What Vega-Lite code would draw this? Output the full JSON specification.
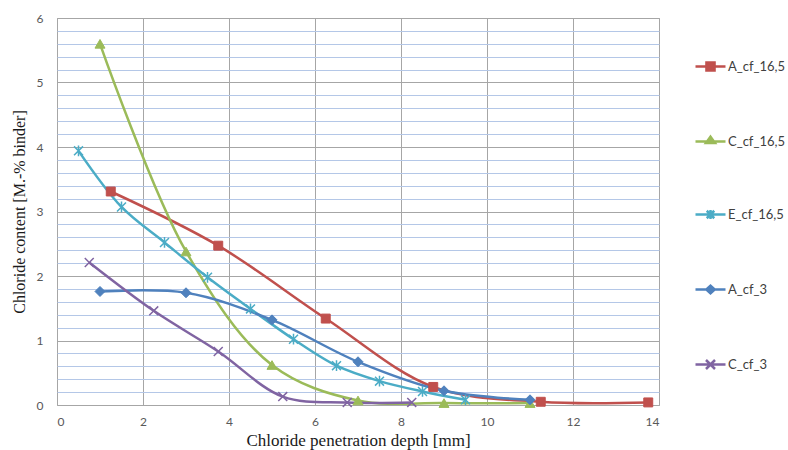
{
  "$schema": "https://vega.github.io/schema/vega-lite/v6.json",
  "width": 602,
  "height": 387,
  "autosize": {"type": "none"},
  "padding": {"left": 57, "top": 18, "right": 129, "bottom": 45},
  "background": "white",
  "config": {
    "view": {"stroke": "#a6a6a6", "strokeWidth": 1},
    "axis": {"labelFont": "Lato", "labelFontSize": 12, "labelColor": "#595959", "titleFont": "Liberation Serif", "titleFontSize": 16, "titleFontWeight": "normal", "titleColor": "#1a1a1a", "ticks": false, "tickSize": 0, "domain": false}
  },
  "data": {"values": [
    {"series": "A_cf_16,5", "x": 1.25, "y": 3.31},
    {"series": "A_cf_16,5", "x": 3.75, "y": 2.47},
    {"series": "A_cf_16,5", "x": 6.25, "y": 1.34},
    {"series": "A_cf_16,5", "x": 8.75, "y": 0.28},
    {"series": "A_cf_16,5", "x": 11.25, "y": 0.05},
    {"series": "A_cf_16,5", "x": 13.75, "y": 0.04},
    {"series": "C_cf_16,5", "x": 1, "y": 5.6},
    {"series": "C_cf_16,5", "x": 3, "y": 2.38},
    {"series": "C_cf_16,5", "x": 5, "y": 0.62},
    {"series": "C_cf_16,5", "x": 7, "y": 0.07},
    {"series": "C_cf_16,5", "x": 9, "y": 0.03},
    {"series": "C_cf_16,5", "x": 11, "y": 0.03},
    {"series": "E_cf_16,5", "x": 0.5, "y": 3.94},
    {"series": "E_cf_16,5", "x": 1.5, "y": 3.07},
    {"series": "E_cf_16,5", "x": 2.5, "y": 2.52},
    {"series": "E_cf_16,5", "x": 3.5, "y": 1.98},
    {"series": "E_cf_16,5", "x": 4.5, "y": 1.49},
    {"series": "E_cf_16,5", "x": 5.5, "y": 1.02},
    {"series": "E_cf_16,5", "x": 6.5, "y": 0.61},
    {"series": "E_cf_16,5", "x": 7.5, "y": 0.37},
    {"series": "E_cf_16,5", "x": 8.5, "y": 0.21},
    {"series": "E_cf_16,5", "x": 9.5, "y": 0.08},
    {"series": "A_cf_3", "x": 1, "y": 1.76},
    {"series": "A_cf_3", "x": 3, "y": 1.74},
    {"series": "A_cf_3", "x": 5, "y": 1.32},
    {"series": "A_cf_3", "x": 7, "y": 0.67},
    {"series": "A_cf_3", "x": 9, "y": 0.22},
    {"series": "A_cf_3", "x": 11, "y": 0.08},
    {"series": "C_cf_3", "x": 0.75, "y": 2.21},
    {"series": "C_cf_3", "x": 2.25, "y": 1.46},
    {"series": "C_cf_3", "x": 3.75, "y": 0.83},
    {"series": "C_cf_3", "x": 5.25, "y": 0.13},
    {"series": "C_cf_3", "x": 6.75, "y": 0.04},
    {"series": "C_cf_3", "x": 8.25, "y": 0.04}
  ]},
  "resolve": {"axis": {"y": "independent"}},
  "layer": [
    {
      "mark": {"type": "line", "interpolate": "catmull-rom", "strokeWidth": 2.5},
      "encoding": {
        "x": {"field": "x", "type": "quantitative", "scale": {"domain": [0, 14], "nice": false},
              "axis": {"values": [0, 2, 4, 6, 8, 10, 12, 14], "grid": true, "gridColor": "#a6a6a6", "labelPadding": 11, "titlePadding": 5, "titleFontSize": 17, "title": "Chloride penetration depth [mm]"}},
        "y": {"field": "y", "type": "quantitative", "scale": {"domain": [0, 6], "nice": false},
              "axis": {"values": [0, 1, 2, 3, 4, 5, 6], "grid": true, "gridColor": "#a6a6a6", "labelPadding": 14, "titlePadding": 9, "title": "Chloride content [M.-% binder]"}},
        "color": {"field": "series", "type": "nominal",
          "scale": {"domain": ["A_cf_16,5", "C_cf_16,5", "E_cf_16,5", "A_cf_3", "C_cf_3"], "range": ["#C0504D", "#9BBB59", "#4BACC6", "#4F81BD", "#8064A2"]},
          "legend": {
            "title": null, "orient": "right", "offset": 3, "padding": 32, "rowPadding": 49,
            "symbolSize": 900, "symbolStrokeWidth": 2.5, "labelOffset": 1,
            "labelFont": "Lato", "labelFontSize": 13, "labelColor": "#404040",
            "encode": {"symbols": {"update": {
              "shape": {"signal": "datum.value === 'A_cf_16,5' ? 'M-1,0H1M-0.27,-0.27H0.27V0.27H-0.27Z' : datum.value === 'C_cf_16,5' ? 'M-1,0H1M0,-0.32L0.3,0.1H-0.3Z' : datum.value === 'E_cf_16,5' ? 'M-1,0H1M-0.25,-0.25L0.25,0.25M-0.25,0.25L0.25,-0.25M0,-0.3V0.3' : datum.value === 'A_cf_3' ? 'M-1,0H1M0,-0.25L0.28,0L0,0.25L-0.28,0Z' : 'M-1,0H1M-0.3,-0.3L0.3,0.3M-0.3,0.3L0.3,-0.3'"},
              "fill": {"signal": "scale('color', datum.value)"},
              "stroke": {"signal": "scale('color', datum.value)"},
              "strokeWidth": {"value": 2.5},
              "size": {"value": 900},
              "opacity": {"value": 1}
            }}}
          }}
      }
    },
    {
      "encoding": {
        "x": {"field": "x", "type": "quantitative"},
        "y": {"field": "y", "type": "quantitative",
              "axis": {"orient": "right", "values": [0.2, 0.4, 0.6, 0.8, 1.2, 1.4, 1.6, 1.8, 2.2, 2.4, 2.6, 2.8, 3.2, 3.4, 3.6, 3.8, 4.2, 4.4, 4.6, 4.8, 5.2, 5.4, 5.6, 5.8], "grid": true, "gridColor": "#b4c7e7", "labels": false, "title": null}}
      },
      "layer": [
        {"transform": [{"filter": "datum.series === 'A_cf_16,5'"}],
         "mark": {"type": "point", "shape": "square", "filled": true, "size": 80, "color": "#C0504D", "stroke": "#C0504D", "strokeWidth": 1, "opacity": 1}},
        {"transform": [{"filter": "datum.series === 'C_cf_16,5'"}],
         "mark": {"type": "point", "shape": "triangle-up", "filled": true, "size": 100, "color": "#9BBB59", "stroke": "#9BBB59", "strokeWidth": 1, "opacity": 1}},
        {"transform": [{"filter": "datum.series === 'E_cf_16,5'"}],
         "mark": {"type": "point", "shape": "M-1,-1L1,1M-1,1L1,-1M0,-1.2L0,1.2", "filled": false, "size": 80, "color": "#4BACC6", "strokeWidth": 1.5, "opacity": 1}},
        {"transform": [{"filter": "datum.series === 'A_cf_3'"}],
         "mark": {"type": "point", "shape": "diamond", "filled": true, "size": 100, "color": "#4F81BD", "stroke": "#4F81BD", "strokeWidth": 1, "opacity": 1}},
        {"transform": [{"filter": "datum.series === 'C_cf_3'"}],
         "mark": {"type": "point", "shape": "M-1,-1L1,1M-1,1L1,-1", "filled": false, "size": 80, "color": "#8064A2", "strokeWidth": 1.5, "opacity": 1}}
      ]
    }
  ]
}
